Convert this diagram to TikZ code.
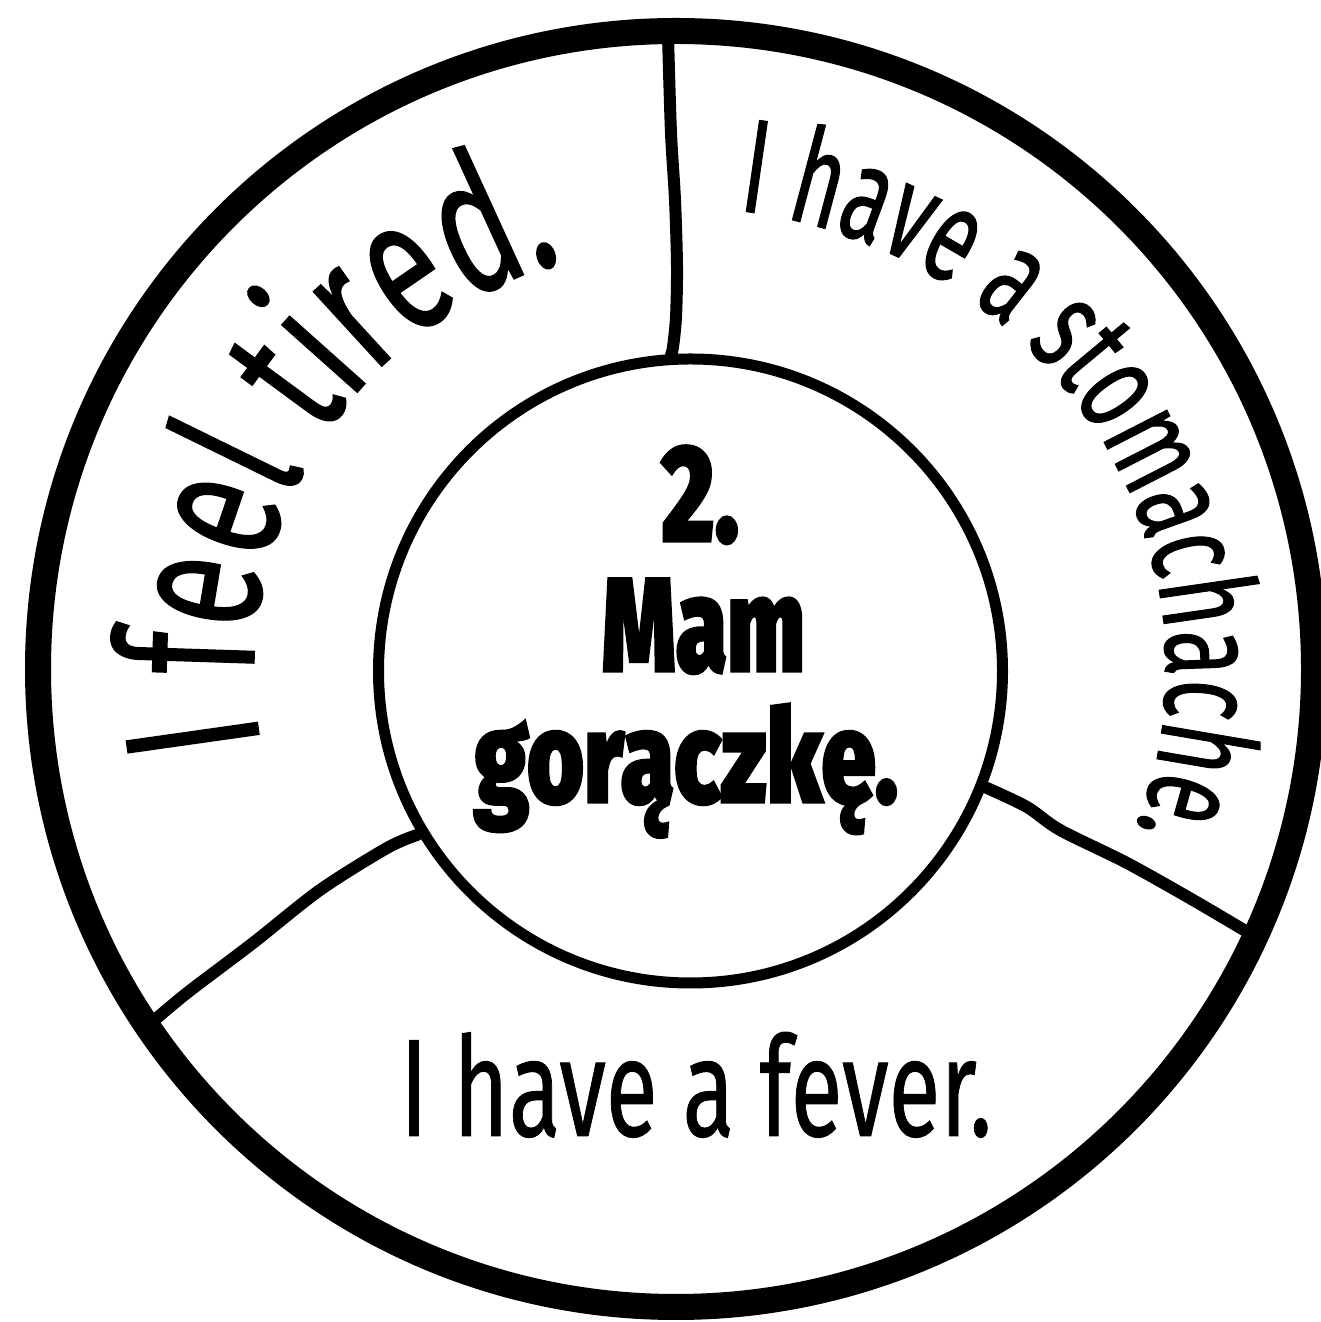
\documentclass[tikz,border=0pt]{standalone}
\usepackage{graphicx}
\usepackage{fontspec}
\setmainfont{Fira Sans}
\newfontfamily\ringfont{Fira Sans}[FakeStretch=0.63, FakeBold=0.7]
\newfontfamily\tiredfont{Fira Sans}[FakeStretch=0.66, FakeBold=0.7]
\newfontfamily\feverfont{Fira Sans}[FakeBold=0.7]
\newfontfamily\centerfont{Fira Sans Black}[FakeStretch=0.7, FakeBold=1]
\usetikzlibrary{decorations.text,calc}
\begin{document}
\begin{tikzpicture}[x=1pt,y=1pt,
  outerring/.style={draw, circle, line width=26pt, minimum size=1276pt, inner sep=0pt, outer sep=0pt},
  innerring/.style={draw, circle, line width=11pt, minimum size=624pt, inner sep=0pt, outer sep=0pt},
  divider/.style={line width=12pt, line cap=round, line join=round},
  label/.style={anchor=base, inner sep=0pt}]
\useasboundingbox (0,0) rectangle (1320,1322);
\coordinate (C) at (676,653);
\coordinate (Ci) at (690.5,651);
\node[outerring] (outer) at (C) {};
\node[innerring] (inner) at (Ci) {};
% dividers
\coordinate (t0) at (671,967);
\coordinate (t1) at (668,1286);
\draw[divider] plot[smooth] coordinates {(t0) (673,975) (676,1005) (677,1055) (675,1122) (671,1189) (t1)};
\coordinate (l0) at (417,487);
\coordinate (l1) at (150,298);
\draw[divider] plot[smooth] coordinates {(l0) (387,474) (320,432) (253,379) (187,329) (l1)};
\coordinate (r0) at (987,534);
\coordinate (r1) at (1254,386);
\draw[divider] plot[smooth] coordinates {(r0) (1027,515) (1060,492) (1127,459) (1193,422) (r1)};
% curved texts
\path[decorate, decoration={text along path, text align=center,
  text={|\tiredfont\fontsize{192}{197}\selectfont|I feel tired.}}]
  ($(C)+(229:422)$) arc[start angle=229, end angle=67, radius=422];
\path[decorate, decoration={text along path, text align=center,
  text={|\ringfont\fontsize{134}{138}\selectfont|I have a stomachache.}}]
  ($(C)+({490*cos(109.7)},{462*sin(109.7)})$) arc[start angle=109.7, end angle=-48.3, x radius=490, y radius=462];
% straight texts
\node[label] (fever) at (696,186) {\resizebox{592pt}{104pt}{\feverfont I have a fever.}};
\node[label] (num) at (700,780) {\resizebox{78pt}{97pt}{\centerfont 2.}};
\node[label] (mam) at (703.5,650) {\resizebox{203pt}{94pt}{\centerfont Mam}};
\node[label] (gor) at (686,519) {\resizebox{424pt}{100pt}{\centerfont gorączkę.}};
\end{tikzpicture}
\end{document}
